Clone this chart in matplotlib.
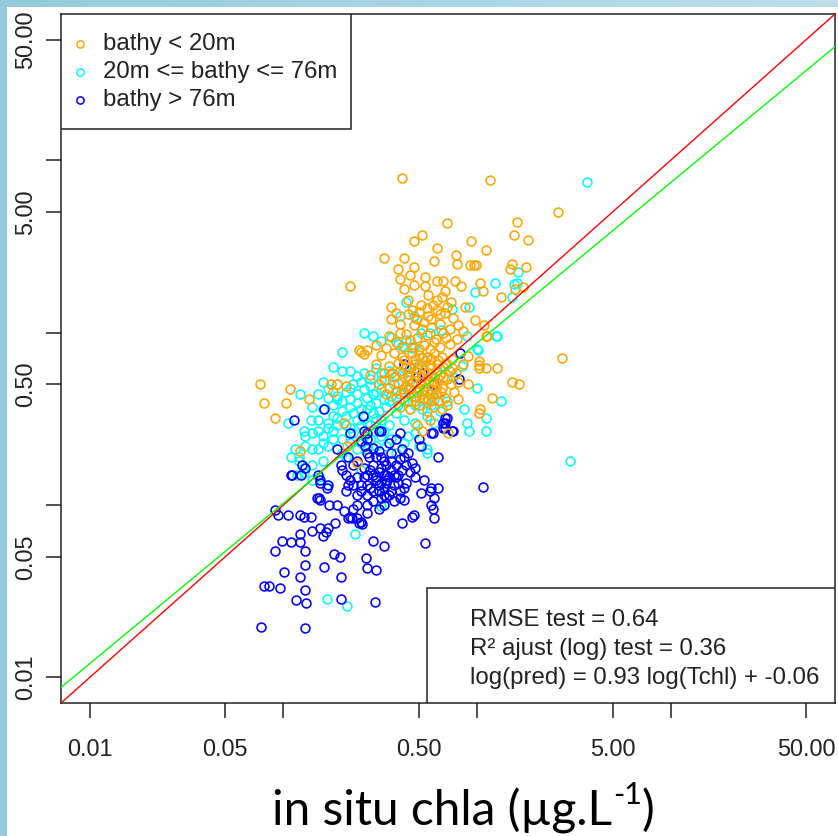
import numpy as np
import matplotlib
matplotlib.use('Agg')
import matplotlib.pyplot as plt
from matplotlib.patches import Rectangle

# dpi
my_dpi = 100

# axis limits (R style: data range 0.01..50 extended by 4% on log scale)
lim_lo, lim_hi = 0.01, 50.0

tick_vals = [0.01, 0.05, 0.1, 0.5, 1, 5, 10, 50]
tick_labels = ['0.01', '0.05', '', '0.50', '', '5.00', '', '50.00']

# fitted line: log(pred) = slope log(Tchl) + intercept
fit_slope = 0.93
fit_intercept = -0.06

legend_labels = ['bathy < 20m', '20m <= bathy <= 76m', 'bathy > 76m']
stats_lines = ['RMSE test = 0.64',
               'R\u00b2 ajust (log) test = 0.36',
               'log(pred) = 0.93 log(Tchl) + -0.06']

# in situ chla, predicted chla  (bathy < 20m)
shallow = [
    (0.41, 7.9), (1.17, 7.7), (2.6, 5.0), (0.70, 4.3), (1.6, 4.4), (0.52, 3.7), (0.47, 3.4),
    (1.55, 3.7), (1.83, 3.45), (0.93, 3.4), (0.62, 3.1), (1.11, 3.0), (0.78, 2.8), (0.79, 2.5),
    (0.33, 2.7), (0.42, 2.7), (0.60, 2.6), (0.92, 2.45), (0.96, 2.45), (0.99, 2.45), (1.51, 2.5),
    (1.48, 2.35), (1.79, 2.4), (0.39, 2.35), (0.47, 2.4), (0.40, 2.05), (0.45, 2.15), (0.54, 2.1),
    (0.62, 2.0), (0.67, 2.0), (0.77, 2.0), (0.47, 1.88), (0.54, 1.85), (0.42, 1.8), (0.68, 1.75),
    (0.22, 1.85), (0.83, 1.87), (1.04, 1.95), (1.07, 1.75), (1.32, 1.6), (1.57, 1.8), (1.73, 1.83),
    (0.62, 1.55), (0.36, 1.4), (0.36, 1.2), (0.51, 1.45), (0.87, 1.4), (0.97, 1.18), (1.08, 1.1),
    (1.12, 0.96), (0.59, 1.45), (0.55, 1.38), (0.64, 1.28), (0.7, 1.4), (0.49, 1.2),
    (2.74, 0.71), (1.02, 0.68), (1.02, 0.65), (1.02, 0.62), (1.11, 0.62), (1.26, 0.62),
    (1.51, 0.52), (1.64, 0.50), (1.19, 0.42), (1.04, 0.36), (1.02, 0.34), (0.71, 0.26),
    (0.80, 0.41), (1.11, 0.96),
    (0.076, 0.50), (0.108, 0.47), (0.135, 0.41), (0.0795, 0.39), (0.103, 0.39), (0.091, 0.32),
    (0.122, 0.206), (0.206, 0.30), (0.214, 0.22), (0.24, 0.175), (0.19, 0.50), (0.21, 0.49),
    (0.175, 0.50), (0.18, 0.45), (0.30, 0.85), (0.245, 0.79), (0.27, 0.79),
    (0.38, 1.3), (0.44, 1.28), (0.50, 1.32), (0.56, 1.25), (0.62, 1.35), (0.68, 1.3), (0.75, 1.22),
    (0.40, 1.12), (0.47, 1.10), (0.53, 1.15), (0.58, 1.08), (0.64, 1.12), (0.72, 1.05), (0.80, 1.10),
    (0.35, 0.95), (0.43, 0.98), (0.49, 0.93), (0.55, 0.97), (0.61, 0.92), (0.67, 1.00), (0.85, 1.02),
    (0.79, 0.92), (0.34, 0.81), (0.42, 0.82), (0.46, 0.82), (0.53, 0.85), (0.57, 0.80),
    (0.64, 0.82), (0.72, 0.86), (0.38, 0.88), (0.25, 0.77), (0.26, 0.75), (0.32, 0.74),
    (0.37, 0.76), (0.41, 0.72), (0.46, 0.76), (0.50, 0.74), (0.55, 0.72), (0.60, 0.76),
    (0.66, 0.72), (0.74, 0.70), (0.90, 0.73), (0.30, 0.66), (0.35, 0.64), (0.39, 0.67),
    (0.43, 0.63), (0.47, 0.66), (0.51, 0.64), (0.54, 0.68), (0.58, 0.62), (0.62, 0.66),
    (0.67, 0.63), (0.72, 0.60), (0.85, 0.66), (0.28, 0.57), (0.33, 0.58), (0.37, 0.55),
    (0.41, 0.58), (0.44, 0.56), (0.48, 0.59), (0.52, 0.55), (0.56, 0.58), (0.60, 0.55),
    (0.64, 0.57), (0.70, 0.54), (0.78, 0.58), (0.31, 0.50), (0.35, 0.48), (0.39, 0.51),
    (0.43, 0.49), (0.46, 0.52), (0.50, 0.48), (0.54, 0.51), (0.58, 0.47), (0.62, 0.50),
    (0.66, 0.48), (0.73, 0.50), (0.90, 0.50), (0.34, 0.44), (0.38, 0.42), (0.42, 0.45),
    (0.47, 0.43), (0.52, 0.44), (0.56, 0.41), (0.61, 0.44), (0.68, 0.42), (0.76, 0.45),
    (0.40, 0.37), (0.45, 0.36), (0.50, 0.38), (0.55, 0.35), (0.60, 0.37), (0.66, 0.36),
    (0.52, 0.27), (0.49, 0.29), (0.57, 0.31),
    (0.40, 0.60), (0.45, 0.62), (0.49, 0.62), (0.53, 0.61), (0.57, 0.65), (0.44, 0.53),
    (0.48, 0.55), (0.51, 0.52), (0.55, 0.54), (0.59, 0.52), (0.63, 0.54), (0.41, 0.47),
    (0.45, 0.47), (0.49, 0.45), (0.53, 0.47), (0.57, 0.44), (0.61, 0.47), (0.65, 0.45),
    (0.44, 0.40), (0.48, 0.40), (0.53, 0.41), (0.58, 0.40), (0.63, 0.40), (0.70, 0.38),
    (0.42, 0.69), (0.48, 0.70), (0.52, 0.71), (0.58, 0.70), (0.63, 0.69), (0.69, 0.67),
    (0.36, 0.58), (0.33, 0.53), (0.38, 0.46), (0.67, 0.55), (0.74, 0.62), (0.80, 0.52),
    (0.50, 0.80), (0.60, 0.88), (0.45, 0.90), (0.69, 0.93), (0.40, 1.00), (0.58, 1.20),
    (0.52, 1.05), (0.46, 1.35), (0.66, 1.60), (0.56, 1.65), (0.44, 1.55), (0.73, 1.50),
]

# 20m <= bathy <= 76m
middle = [
    (3.7, 7.5), (3.0, 0.18), (0.168, 0.0285), (0.214, 0.026), (0.235, 0.068), (0.32, 0.099),
    (1.62, 2.25), (1.23, 1.95), (0.98, 1.72), (1.6, 1.93), (1.51, 1.6), (0.74, 1.37), (0.91, 1.4),
    (1.25, 0.96), (1.01, 0.79), (1.26, 0.96), (1.0, 0.48), (1.32, 0.40), (0.86, 0.36), (1.11, 0.32),
    (0.89, 0.30), (0.91, 0.27), (1.11, 0.27), (0.55, 0.21), (0.55, 0.20), (0.122, 0.44),
    (0.105, 0.30), (0.139, 0.31), (0.127, 0.27), (0.20, 0.77), (0.11, 0.19),
    (0.43, 1.5), (0.40, 1.24), (0.26, 1.0), (0.65, 1.04), (0.51, 1.0), (0.57, 1.0), (0.41, 0.84),
    (0.46, 0.81), (0.89, 0.95), (0.84, 0.64), (0.47, 1.25), (1.55, 1.9), (1.0, 0.80),
    (0.29, 0.96), (0.32, 0.89), (0.36, 0.94), (0.39, 0.86), (0.43, 0.91), (0.47, 0.82),
    (0.12, 0.19), (0.115, 0.21), (0.14, 0.21), (0.127, 0.153), (0.152, 0.145), (0.168, 0.13),
    (0.118, 0.15), (0.14, 0.14), (0.128, 0.165),
    (0.18, 0.63), (0.20, 0.60), (0.22, 0.60), (0.26, 0.58), (0.30, 0.62), (0.35, 0.60),
    (0.42, 0.62), (0.50, 0.66), (0.62, 0.60), (0.70, 0.66),
    (0.16, 0.52), (0.19, 0.50), (0.22, 0.48), (0.25, 0.52), (0.28, 0.49), (0.32, 0.53),
    (0.37, 0.50), (0.45, 0.53), (0.55, 0.46), (0.75, 0.55),
    (0.15, 0.44), (0.17, 0.42), (0.19, 0.43), (0.20, 0.40), (0.22, 0.41), (0.24, 0.44),
    (0.27, 0.42), (0.30, 0.45), (0.33, 0.41), (0.36, 0.43), (0.42, 0.40), (0.50, 0.42),
    (0.60, 0.41), (0.70, 0.40),
    (0.14, 0.37), (0.16, 0.36), (0.18, 0.38), (0.20, 0.35), (0.22, 0.37), (0.25, 0.36),
    (0.28, 0.38), (0.31, 0.35), (0.34, 0.37), (0.38, 0.34), (0.45, 0.36), (0.55, 0.33),
    (0.64, 0.35),
    (0.15, 0.31), (0.17, 0.30), (0.19, 0.32), (0.21, 0.29), (0.24, 0.31), (0.27, 0.30),
    (0.30, 0.32), (0.35, 0.29), (0.42, 0.31), (0.48, 0.30), (0.60, 0.30),
    (0.14, 0.26), (0.16, 0.25), (0.18, 0.27), (0.20, 0.24), (0.23, 0.26), (0.26, 0.25),
    (0.29, 0.27), (0.36, 0.24), (0.44, 0.25), (0.50, 0.22),
    (0.13, 0.22), (0.15, 0.21), (0.17, 0.22), (0.20, 0.20), (0.24, 0.21), (0.30, 0.22),
    (0.38, 0.20), (0.12, 0.18), (0.14, 0.17), (0.16, 0.18), (0.25, 0.16),
    (0.17, 0.47), (0.21, 0.45), (0.23, 0.50), (0.26, 0.47), (0.29, 0.44), (0.32, 0.47),
    (0.18, 0.33), (0.21, 0.33), (0.23, 0.34), (0.26, 0.33), (0.29, 0.34), (0.32, 0.31),
    (0.17, 0.28), (0.19, 0.29), (0.22, 0.28), (0.25, 0.29), (0.28, 0.29), (0.33, 0.27),
    (0.18, 0.24), (0.22, 0.23), (0.25, 0.23), (0.28, 0.24), (0.32, 0.25), (0.19, 0.41),
    (0.24, 0.39), (0.27, 0.36), (0.30, 0.39), (0.35, 0.40), (0.39, 0.38), (0.40, 0.44),
    (0.48, 0.38), (0.52, 0.36), (0.58, 0.38), (0.44, 0.47), (0.38, 0.56), (0.32, 0.58),
    (0.28, 0.54), (0.24, 0.56), (0.15, 0.27), (0.13, 0.25), (0.16, 0.23), (0.21, 0.19),
    (0.27, 0.21), (0.34, 0.22), (0.42, 0.23), (0.48, 0.26),
]

# bathy > 76m
deep = [
    (0.091, 0.094), (0.105, 0.088), (0.094, 0.088), (0.122, 0.088), (0.127, 0.085), (0.138, 0.085),
    (0.098, 0.062), (0.109, 0.061), (0.122, 0.061), (0.122, 0.068), (0.091, 0.054), (0.130, 0.054),
    (0.130, 0.045), (0.101, 0.041), (0.122, 0.038), (0.079, 0.034), (0.084, 0.034), (0.096, 0.033),
    (0.130, 0.032), (0.116, 0.028), (0.131, 0.027), (0.077, 0.0197), (0.130, 0.0194),
    (0.162, 0.044), (0.198, 0.038), (0.199, 0.0285), (0.183, 0.052), (0.196, 0.050),
    (0.266, 0.049), (0.27, 0.043), (0.30, 0.042), (0.297, 0.0275), (0.29, 0.062), (0.33, 0.058),
    (0.54, 0.060), (0.41, 0.079), (0.47, 0.088), (0.46, 0.085), (0.60, 0.084), (0.58, 0.10),
    (0.59, 0.095), (0.42, 0.107), (0.51, 0.118), (0.58, 0.125), (0.40, 0.12), (0.34, 0.112),
    (0.155, 0.074), (0.165, 0.070), (0.17, 0.074), (0.185, 0.079), (0.14, 0.071), (0.16, 0.066),
    (0.149, 0.11), (0.155, 0.107), (0.172, 0.10), (0.19, 0.10), (0.205, 0.092), (0.22, 0.085),
    (0.24, 0.084), (0.245, 0.079), (0.109, 0.15), (0.168, 0.126), (0.155, 0.14), (0.152, 0.11),
    (0.215, 0.13), (0.23, 0.13), (0.24, 0.145), (0.27, 0.15), (0.30, 0.145), (0.34, 0.15),
    (0.37, 0.15), (0.27, 0.13), (0.29, 0.12), (0.32, 0.135), (0.34, 0.14), (0.27, 0.115),
    (0.24, 0.10), (0.27, 0.10), (0.32, 0.11), (0.33, 0.115), (0.36, 0.12), (0.215, 0.084),
    (0.225, 0.084), (0.25, 0.080), (0.255, 0.078), (1.07, 0.128),
    (0.162, 0.36), (0.113, 0.31), (0.256, 0.33), (0.31, 0.27), (0.27, 0.26), (0.26, 0.27),
    (0.32, 0.27), (0.40, 0.26), (0.50, 0.24), (0.58, 0.26), (0.67, 0.28), (0.70, 0.32),
    (0.67, 0.30), (0.74, 0.27), (0.82, 0.76), (0.81, 0.54), (0.59, 0.26), (0.75, 0.27),
    (0.68, 0.30), (0.68, 0.28), (0.68, 0.32), (0.63, 0.19), (0.51, 0.22),
    (0.45, 0.62), (0.52, 0.58), (0.60, 0.50), (0.42, 0.66), (0.49, 0.55),
    (0.19, 0.21), (0.125, 0.17), (0.13, 0.165), (0.111, 0.15), (0.123, 0.15), (0.15, 0.15),
    (0.155, 0.135), (0.17, 0.13), (0.198, 0.17), (0.21, 0.15), (0.22, 0.14), (0.275, 0.19),
    (0.30, 0.19), (0.33, 0.18), (0.34, 0.17), (0.29, 0.17), (0.43, 0.17), (0.48, 0.165),
    (0.48, 0.145), (0.39, 0.15), (0.42, 0.125), (0.40, 0.11), (0.53, 0.14), (0.57, 0.12),
    (0.63, 0.125), (0.60, 0.11), (0.27, 0.24), (0.25, 0.235), (0.265, 0.22), (0.22, 0.26),
    (0.215, 0.19), (0.28, 0.16), (0.31, 0.155), (0.33, 0.15), (0.36, 0.16), (0.30, 0.14),
    (0.34, 0.135), (0.37, 0.13), (0.38, 0.145), (0.26, 0.145), (0.25, 0.13), (0.31, 0.12),
    (0.35, 0.115), (0.29, 0.105), (0.33, 0.10), (0.36, 0.18), (0.40, 0.185), (0.44, 0.20),
    (0.36, 0.20), (0.31, 0.205), (0.27, 0.20), (0.23, 0.17), (0.20, 0.16), (0.21, 0.12),
    (0.24, 0.115),
    (0.26, 0.165), (0.29, 0.15), (0.32, 0.165), (0.35, 0.145), (0.39, 0.135), (0.41, 0.16),
    (0.45, 0.155), (0.43, 0.135), (0.31, 0.13), (0.28, 0.125), (0.25, 0.12), (0.33, 0.125),
    (0.37, 0.105), (0.31, 0.095), (0.27, 0.09), (0.23, 0.095), (0.38, 0.17), (0.42, 0.19),
    (0.46, 0.175), (0.24, 0.18), (0.32, 0.19), (0.29, 0.215), (0.35, 0.23), (0.41, 0.21),
    (0.38, 0.24),
]

groups = [('#00FFFF', middle), ('#0000FF', deep), ('#FFA500', shallow)]

plt.rcParams['font.family'] = ['Liberation Sans', 'DejaVu Sans']

fig = plt.figure(figsize=(838/my_dpi, 836/my_dpi), dpi=my_dpi, facecolor='white')

# light blue frame (left strip and top gradient)
fig.patches.append(Rectangle((0, 0), 7/838., 1, transform=fig.transFigure,
                             facecolor='#93cbdc', edgecolor='none', zorder=0))
top = fig.add_axes([0, 1 - 7/836., 1, 7/836.])
grad = np.linspace(0, 1, 256).reshape(1, -1)
c0 = np.array([0x93, 0xcb, 0xdc]) / 255.
c1 = np.array([0xbc, 0xdf, 0xea]) / 255.
top.imshow((c0 + (c1 - c0) * grad[..., None]), aspect='auto', extent=(0, 1, 0, 1))
top.axis('off')

ax = fig.add_axes([61/838., 133/836., 774/838., 689/836.])
ax.set_xscale('log')
ax.set_yscale('log')
ext = 0.04 * (np.log10(lim_hi) - np.log10(lim_lo))
lo = 10 ** (np.log10(lim_lo) - ext)
hi = 10 ** (np.log10(lim_hi) + ext)
ax.set_xlim(lo, hi)
ax.set_ylim(lo, hi)

for col, pts in groups:
    arr = np.array(pts)
    ax.plot(arr[:, 0], arr[:, 1], linestyle='none', marker='o', markersize=6.4,
            markerfacecolor='none', markeredgecolor=col, markeredgewidth=1.15, zorder=2)

xs = np.array([lo, hi])
ax.plot(xs, xs, color='#FF0000', linewidth=1.0, zorder=3)
ax.plot(xs, 10 ** (fit_slope * np.log10(xs) + fit_intercept), color='#00FF00', linewidth=1.0, zorder=3)

ax.set_xticks(tick_vals)
ax.set_xticklabels(tick_labels)
ax.set_yticks(tick_vals)
ax.set_yticklabels(tick_labels)
ax.minorticks_off()
ax.tick_params(which='major', direction='out', length=10.5, width=1.1, labelsize=16.9,
               pad=15, colors='#222222')
ax.tick_params(axis='y', pad=7)
for lab in ax.get_yticklabels():
    lab.set_rotation(90)
    lab.set_va('center')
for sp in ax.spines.values():
    sp.set_linewidth(1.1)
    sp.set_color('#222222')

# pixel helpers for boxes (axes fractions)
def fx(px):
    return (px - 61) / 774.

def fy(py):
    return (703 - py) / 689.

# legend box
ax.add_patch(Rectangle((0, fy(129)), fx(351), 1 - fy(129), transform=ax.transAxes,
                       facecolor='white', edgecolor='#222222', linewidth=1.1, zorder=4))
for i, (lab, col) in enumerate(zip(legend_labels, ['#FFA500', '#00FFFF', '#0000FF'])):
    yy = fy(44 + 28 * i)
    ax.plot([fx(80)], [yy], marker='o', markersize=5.2, markerfacecolor='none',
            markeredgecolor=col, markeredgewidth=1.1, transform=ax.transAxes, zorder=5)
    ax.text(fx(103), yy, lab, transform=ax.transAxes, fontsize=17.3, va='center',
            ha='left', color='#222222', zorder=5)

# stats box
ax.add_patch(Rectangle((fx(427), 0), 1 - fx(427), fy(588), transform=ax.transAxes,
                       facecolor='white', edgecolor='#222222', linewidth=1.1, zorder=4))
for i, s in enumerate(stats_lines):
    ax.text(fx(470), fy(620 + 29 * i), s, transform=ax.transAxes, fontsize=17.3,
            va='center', ha='left', color='#222222', zorder=5)

# x axis title with a raised "-1"
renderer = fig.canvas.get_renderer()
base_y = (836 - 825) / 836.
t1 = fig.text(0, base_y, 'in situ chla (\u00b5g.L', family='Lato', fontsize=34.5,
              ha='left', va='baseline', color='black')
t2 = fig.text(0, base_y + 21/836., '-1', family='Lato', fontsize=22,
              ha='left', va='baseline', color='black')
t3 = fig.text(0, base_y, ')', family='Lato', fontsize=34.5,
              ha='left', va='baseline', color='black')
w1 = t1.get_window_extent(renderer).width
w2 = t2.get_window_extent(renderer).width
w3 = t3.get_window_extent(renderer).width
start = 463 - (w1 + w2 + w3 + 1) / 2.
t1.set_x(start / 838.)
t2.set_x((start + w1 + 1) / 838.)
t3.set_x((start + w1 + w2 + 1) / 838.)

plt.savefig('out.png', dpi=my_dpi, facecolor='white')
